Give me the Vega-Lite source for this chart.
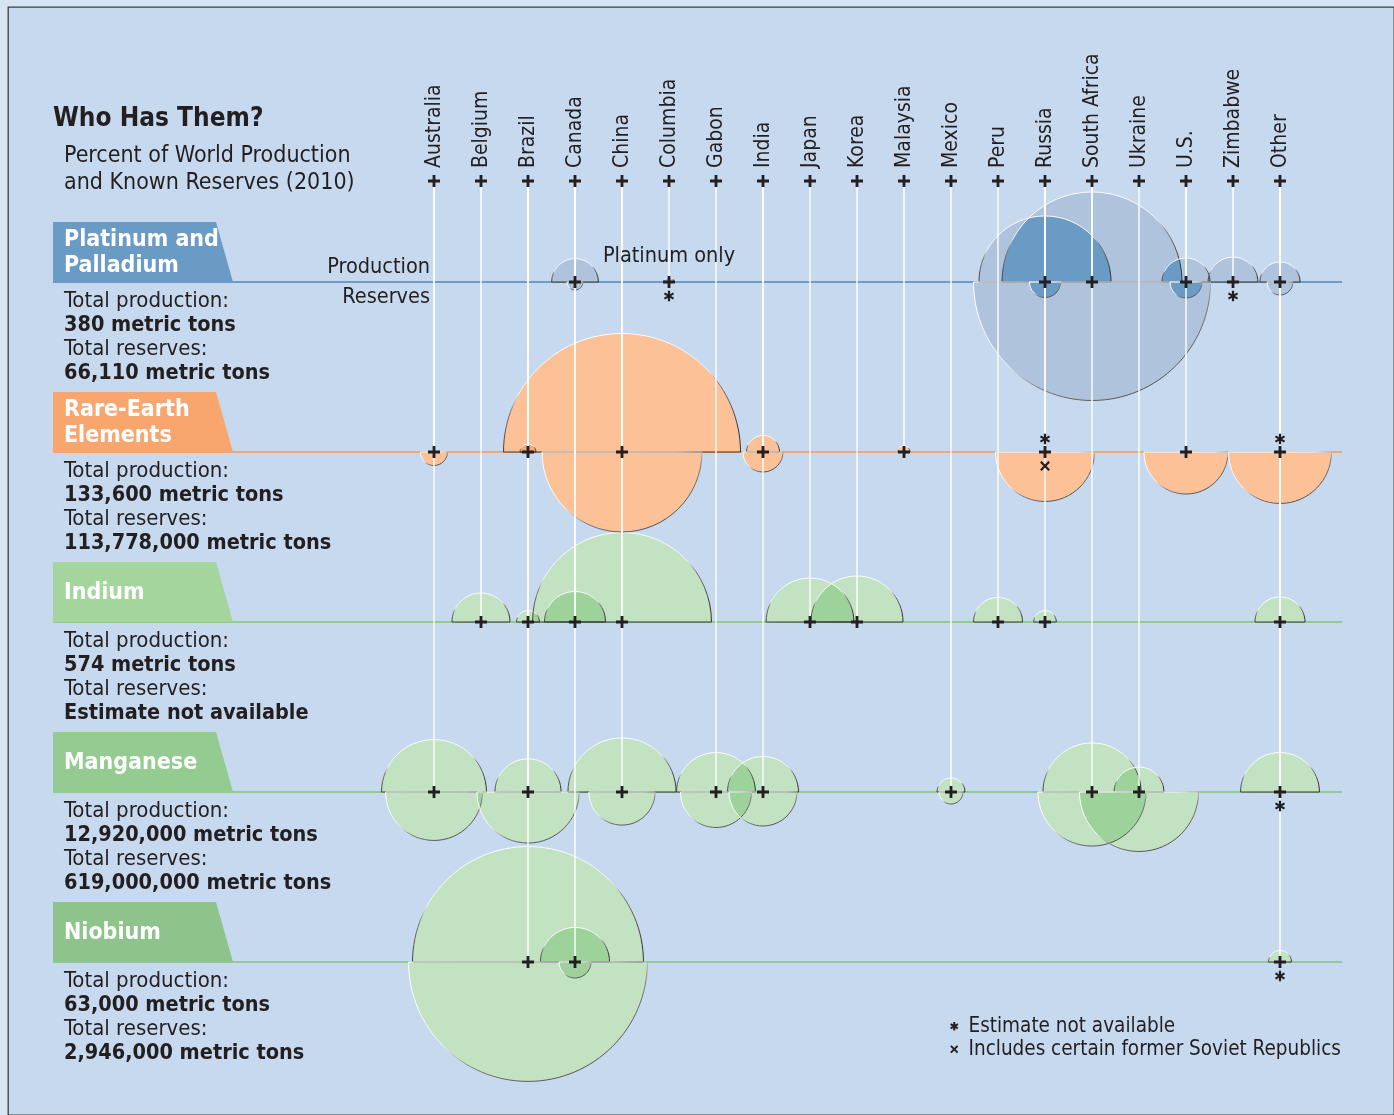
{
  "$schema": "https://vega.github.io/schema/vega-lite/v6.json",
  "width": 1394,
  "height": 1115,
  "autosize": {"type": "fit", "contains": "padding"},
  "padding": {"left": 8, "top": 7, "right": 0, "bottom": 0},
  "background": "#d7e4f3",
  "config": {
    "view": {"fill": "#c7d9ef", "stroke": "#3c3c3c", "strokeWidth": 1.3},
    "axis": {"disable": true},
    "font": "DejaVu Sans Condensed, DejaVu Sans, sans-serif",
    "text": {"font": "DejaVu Sans Condensed, DejaVu Sans, sans-serif", "color": "#231f20"}
  },
  "datasets": {
    "cells": [
      {"mineral": "Platinum and Palladium", "country": "Canada", "prod": 3.8, "res": 0.44},
      {"mineral": "Platinum and Palladium", "country": "Columbia", "prod": 0.17, "resNote": "Estimate not available"},
      {"mineral": "Platinum and Palladium", "country": "Russia", "prod": 30.3, "res": 1.67},
      {"mineral": "Platinum and Palladium", "country": "South Africa", "prod": 56.3, "res": 97.5},
      {"mineral": "Platinum and Palladium", "country": "U.S.", "prod": 4.0, "res": 1.78},
      {"mineral": "Platinum and Palladium", "country": "Zimbabwe", "prod": 4.3, "resNote": "Estimate not available"},
      {"mineral": "Platinum and Palladium", "country": "Other", "prod": 2.8, "res": 1.17},
      {"mineral": "Rare-Earth Elements", "country": "Australia", "prod": 0, "res": 1.27},
      {"mineral": "Rare-Earth Elements", "country": "Brazil", "prod": 0.44, "res": 0.04},
      {"mineral": "Rare-Earth Elements", "country": "China", "prod": 97.5, "res": 44.4},
      {"mineral": "Rare-Earth Elements", "country": "India", "prod": 1.9, "res": 2.78},
      {"mineral": "Rare-Earth Elements", "country": "Malaysia", "prod": 0.25, "res": 0.03},
      {"mineral": "Rare-Earth Elements", "country": "Russia", "prodNote": "Estimate not available", "res": 17.0, "resNote": "Includes certain former Soviet Republics"},
      {"mineral": "Rare-Earth Elements", "country": "U.S.", "prod": 0, "res": 12.25},
      {"mineral": "Rare-Earth Elements", "country": "Other", "prodNote": "Estimate not available", "res": 18.4},
      {"mineral": "Indium", "country": "Belgium", "prod": 5.84},
      {"mineral": "Indium", "country": "Brazil", "prod": 0.92},
      {"mineral": "Indium", "country": "Canada", "prod": 6.46},
      {"mineral": "Indium", "country": "China", "prod": 55.6},
      {"mineral": "Indium", "country": "Japan", "prod": 13.4},
      {"mineral": "Indium", "country": "Korea", "prod": 14.7},
      {"mineral": "Indium", "country": "Peru", "prod": 4.17},
      {"mineral": "Indium", "country": "Russia", "prod": 0.89},
      {"mineral": "Indium", "country": "Other", "prod": 4.34},
      {"mineral": "Manganese", "country": "Australia", "prod": 19.1, "res": 16.3},
      {"mineral": "Manganese", "country": "Brazil", "prod": 7.6, "res": 18.1},
      {"mineral": "Manganese", "country": "China", "prod": 20.3, "res": 7.6},
      {"mineral": "Manganese", "country": "Gabon", "prod": 10.8, "res": 8.75},
      {"mineral": "Manganese", "country": "India", "prod": 8.75, "res": 8.0},
      {"mineral": "Manganese", "country": "Mexico", "prod": 1.36, "res": 1.0},
      {"mineral": "Manganese", "country": "South Africa", "prod": 16.7, "res": 20.3},
      {"mineral": "Manganese", "country": "Ukraine", "prod": 4.3, "res": 24.6},
      {"mineral": "Manganese", "country": "Other", "prod": 10.8, "resNote": "Estimate not available"},
      {"mineral": "Niobium", "country": "Brazil", "prod": 92.6, "res": 99.0},
      {"mineral": "Niobium", "country": "Canada", "prod": 8.3, "res": 1.78},
      {"mineral": "Niobium", "country": "Other", "prod": 0.92, "resNote": "Estimate not available"}
    ],
    "countries": [
      {"country": "Australia"}, {"country": "Belgium"}, {"country": "Brazil"}, {"country": "Canada"},
      {"country": "China"}, {"country": "Columbia"}, {"country": "Gabon"}, {"country": "India"},
      {"country": "Japan"}, {"country": "Korea"}, {"country": "Malaysia"}, {"country": "Mexico"},
      {"country": "Peru"}, {"country": "Russia"}, {"country": "South Africa"}, {"country": "Ukraine"},
      {"country": "U.S."}, {"country": "Zimbabwe"}, {"country": "Other"}
    ],
    "minerals": [
      {"mineral": "Platinum and Palladium", "name1": "Platinum and", "name2": "Palladium", "prodLabel": "Total production:", "prodTotal": "380 metric tons", "resLabel": "Total reserves:", "resTotal": "66,110 metric tons"},
      {"mineral": "Rare-Earth Elements", "name1": "Rare-Earth", "name2": "Elements", "prodLabel": "Total production:", "prodTotal": "133,600 metric tons", "resLabel": "Total reserves:", "resTotal": "113,778,000 metric tons"},
      {"mineral": "Indium", "name": "Indium", "prodLabel": "Total production:", "prodTotal": "574 metric tons", "resLabel": "Total reserves:", "resTotal": "Estimate not available"},
      {"mineral": "Manganese", "name": "Manganese", "prodLabel": "Total production:", "prodTotal": "12,920,000 metric tons", "resLabel": "Total reserves:", "resTotal": "619,000,000 metric tons"},
      {"mineral": "Niobium", "name": "Niobium", "prodLabel": "Total production:", "prodTotal": "63,000 metric tons", "resLabel": "Total reserves:", "resTotal": "2,946,000 metric tons"}
    ]
  },
  "layer": [
    {
      "layer": [
        {
          "data": {"name": "minerals"},
          "mark": {"type": "rule", "strokeWidth": 2},
          "encoding": {
            "x": {"datum": 0, "type": "quantitative", "scale": {"domain": [0, 1], "range": [45, 225], "zero": false, "nice": false}, "axis": null},
            "x2": {"datum": 7.161},
            "y": {"field": "mineral", "type": "nominal", "scale": {"type": "point", "domain": ["Header", "Platinum and Palladium", "Rare-Earth Elements", "Indium", "Manganese", "Niobium"], "range": [105, 955], "padding": 0}, "axis": null},
            "stroke": {"field": "mineral", "type": "nominal", "scale": {"domain": ["Platinum and Palladium", "Rare-Earth Elements", "Indium", "Manganese", "Niobium"], "range": ["#6d9cc6", "#f6a673", "#94c991", "#94c991", "#94c991"]}, "legend": null}
          }
        },
        {
          "data": {"name": "minerals"},
          "mark": {"type": "point", "shape": "M-1,-0.3333L0.8111,-0.3333L1,0.3333L-1,0.3333Z", "size": 32400, "filled": true, "opacity": 1, "strokeWidth": 0, "yOffset": -30},
          "encoding": {
            "x": {"datum": 0.5, "type": "quantitative"},
            "y": {"field": "mineral", "type": "nominal"},
            "fill": {"field": "mineral", "type": "nominal", "scale": {"domain": ["Platinum and Palladium", "Rare-Earth Elements", "Indium", "Manganese", "Niobium"], "range": ["#6a9bc5", "#f9a66e", "#a3d59c", "#93cb90", "#8ec38b"]}, "legend": null}
          }
        },
        {
          "data": {"name": "minerals"},
          "transform": [{"filter": "isValid(datum.name1)"}],
          "mark": {"type": "text", "align": "left", "baseline": "alphabetic", "fontSize": 23, "fontWeight": "bold", "color": "#ffffff", "dy": -36},
          "encoding": {"x": {"datum": 0.061, "type": "quantitative"}, "y": {"field": "mineral", "type": "nominal"}, "text": {"field": "name1"}}
        },
        {
          "data": {"name": "minerals"},
          "transform": [{"filter": "isValid(datum.name2)"}],
          "mark": {"type": "text", "align": "left", "baseline": "alphabetic", "fontSize": 23, "fontWeight": "bold", "color": "#ffffff", "dy": -10},
          "encoding": {"x": {"datum": 0.061, "type": "quantitative"}, "y": {"field": "mineral", "type": "nominal"}, "text": {"field": "name2"}}
        },
        {
          "data": {"name": "minerals"},
          "transform": [{"filter": "isValid(datum.name)"}],
          "mark": {"type": "text", "align": "left", "baseline": "alphabetic", "fontSize": 23, "fontWeight": "bold", "color": "#ffffff", "dy": -23},
          "encoding": {"x": {"datum": 0.061, "type": "quantitative"}, "y": {"field": "mineral", "type": "nominal"}, "text": {"field": "name"}}
        },
        {
          "data": {"name": "minerals"},
          "mark": {"type": "text", "align": "left", "baseline": "alphabetic", "fontSize": 22, "dy": 25},
          "encoding": {"x": {"datum": 0.061, "type": "quantitative"}, "y": {"field": "mineral", "type": "nominal"}, "text": {"field": "prodLabel"}}
        },
        {
          "data": {"name": "minerals"},
          "mark": {"type": "text", "align": "left", "baseline": "alphabetic", "fontSize": 21.5, "fontWeight": "bold", "dy": 49},
          "encoding": {"x": {"datum": 0.061, "type": "quantitative"}, "y": {"field": "mineral", "type": "nominal"}, "text": {"field": "prodTotal"}}
        },
        {
          "data": {"name": "minerals"},
          "mark": {"type": "text", "align": "left", "baseline": "alphabetic", "fontSize": 22, "dy": 73},
          "encoding": {"x": {"datum": 0.061, "type": "quantitative"}, "y": {"field": "mineral", "type": "nominal"}, "text": {"field": "resLabel"}}
        },
        {
          "data": {"name": "minerals"},
          "mark": {"type": "text", "align": "left", "baseline": "alphabetic", "fontSize": 21.5, "fontWeight": "bold", "dy": 97},
          "encoding": {"x": {"datum": 0.061, "type": "quantitative"}, "y": {"field": "mineral", "type": "nominal"}, "text": {"field": "resTotal"}}
        },
        {
          "data": {"values": [{"t": "Who Has Them?"}]},
          "mark": {"type": "text", "align": "left", "baseline": "alphabetic", "fontSize": 26, "fontWeight": "bold", "dy": 14},
          "encoding": {"x": {"datum": 0, "type": "quantitative"}, "y": {"datum": "Header", "type": "nominal"}, "text": {"field": "t"}}
        },
        {
          "data": {"values": [{"t": ["Percent of World Production", "and Known Reserves (2010)"]}]},
          "mark": {"type": "text", "align": "left", "baseline": "alphabetic", "fontSize": 23, "lineHeight": 26.5, "dy": 50},
          "encoding": {"x": {"datum": 0.061, "type": "quantitative"}, "y": {"datum": "Header", "type": "nominal"}, "text": {"field": "t"}}
        }
      ]
    },
    {
      "layer": [
        {
          "data": {"name": "cells"},
          "transform": [{"filter": "datum.prod > 0"}],
          "mark": {"type": "point", "shape": "M-1,0C-1,-0.5523,-0.5523,-1,0,-1C0.5523,-1,1,-0.5523,1,0Z", "filled": true, "opacity": 1, "strokeWidth": 0},
          "encoding": {
            "x": {"field": "country", "type": "nominal", "scale": {"type": "point", "domain": ["Australia", "Belgium", "Brazil", "Canada", "China", "Columbia", "Gabon", "India", "Japan", "Korea", "Malaysia", "Mexico", "Peru", "Russia", "South Africa", "Ukraine", "U.S.", "Zimbabwe", "Other"], "range": [426, 1272], "padding": 0}, "axis": null},
            "y": {"field": "mineral", "type": "nominal"},
            "size": {"field": "prod", "type": "quantitative", "scale": {"type": "linear", "domain": [0, 100], "range": [0, 57600], "zero": true}, "legend": null},
            "fill": {"field": "mineral", "type": "nominal", "scale": {"domain": ["Platinum and Palladium", "Rare-Earth Elements", "Indium", "Manganese", "Niobium"], "range": ["#f4ebf4", "#fedcbd", "#e9f1e7", "#e9f1e7", "#e9f1e7"]}, "legend": null}
          }
        },
        {
          "data": {"name": "cells"},
          "transform": [{"filter": "datum.res > 0"}],
          "mark": {"type": "point", "shape": "M-1,0C-1,0.5523,-0.5523,1,0,1C0.5523,1,1,0.5523,1,0Z", "filled": true, "opacity": 1, "strokeWidth": 0},
          "encoding": {
            "x": {"field": "country", "type": "nominal"},
            "y": {"field": "mineral", "type": "nominal"},
            "size": {"field": "res", "type": "quantitative", "legend": null},
            "fill": {"field": "mineral", "type": "nominal", "scale": {"domain": ["Platinum and Palladium", "Rare-Earth Elements", "Indium", "Manganese", "Niobium"], "range": ["#f4ebf4", "#fedcbd", "#e9f1e7", "#e9f1e7", "#e9f1e7"]}, "legend": null}
          }
        },
        {
          "data": {"name": "cells"},
          "transform": [{"filter": "datum.prod > 0"}],
          "mark": {"type": "point", "shape": "M-1,0C-1,-0.5523,-0.5523,-1,0,-1C0.5523,-1,1,-0.5523,1,0Z", "filled": true, "opacity": 1, "strokeWidth": 0, "blend": "difference"},
          "encoding": {
            "x": {"field": "country", "type": "nominal"},
            "y": {"field": "mineral", "type": "nominal"},
            "size": {"field": "prod", "type": "quantitative", "legend": null},
            "fill": {"field": "mineral", "type": "nominal", "scale": {"domain": ["Platinum and Palladium", "Rare-Earth Elements", "Indium", "Manganese", "Niobium"], "range": ["#452818", "#021b26", "#260f26", "#260f26", "#260f26"]}, "legend": null}
          }
        },
        {
          "data": {"name": "cells"},
          "transform": [{"filter": "datum.res > 0"}],
          "mark": {"type": "point", "shape": "M-1,0C-1,0.5523,-0.5523,1,0,1C0.5523,1,1,0.5523,1,0Z", "filled": true, "opacity": 1, "strokeWidth": 0, "blend": "difference"},
          "encoding": {
            "x": {"field": "country", "type": "nominal"},
            "y": {"field": "mineral", "type": "nominal"},
            "size": {"field": "res", "type": "quantitative", "legend": null},
            "fill": {"field": "mineral", "type": "nominal", "scale": {"domain": ["Platinum and Palladium", "Rare-Earth Elements", "Indium", "Manganese", "Niobium"], "range": ["#452818", "#021b26", "#260f26", "#260f26", "#260f26"]}, "legend": null}
          }
        },
        {
          "data": {"name": "cells"},
          "transform": [{"filter": "datum.prod > 0"}],
          "mark": {"type": "point", "shape": "M-1,0C-1,-0.5523,-0.5523,-1,0,-1C0.5523,-1,1,-0.5523,1,0Z", "filled": false, "opacity": 1, "strokeWidth": 1,
            "stroke": {"gradient": "linear", "x1": 0, "y1": 0, "x2": 0.25, "y2": 1, "stops": [{"offset": 0, "color": "#ffffff"}, {"offset": 0.5, "color": "#eef2f7"}, {"offset": 0.62, "color": "#777777"}, {"offset": 1, "color": "#333333"}]}},
          "encoding": {
            "x": {"field": "country", "type": "nominal"},
            "y": {"field": "mineral", "type": "nominal"},
            "size": {"field": "prod", "type": "quantitative", "legend": null}
          }
        },
        {
          "data": {"name": "cells"},
          "transform": [{"filter": "datum.res > 0"}],
          "mark": {"type": "point", "shape": "M-1,0C-1,0.5523,-0.5523,1,0,1C0.5523,1,1,0.5523,1,0Z", "filled": false, "opacity": 1, "strokeWidth": 1,
            "stroke": {"gradient": "linear", "x1": 0, "y1": 0, "x2": 1, "y2": 1, "stops": [{"offset": 0, "color": "#ffffff"}, {"offset": 0.42, "color": "#f2f5f9"}, {"offset": 0.58, "color": "#7a7a7a"}, {"offset": 1, "color": "#333333"}]}},
          "encoding": {
            "x": {"field": "country", "type": "nominal"},
            "y": {"field": "mineral", "type": "nominal"},
            "size": {"field": "res", "type": "quantitative", "legend": null}
          }
        },
        {
          "data": {"name": "cells"},
          "mark": {"type": "rule", "color": "#ffffff", "strokeWidth": 1.4, "y2Offset": 69},
          "encoding": {
            "x": {"field": "country", "type": "nominal"},
            "y": {"field": "mineral", "type": "nominal"},
            "y2": {"datum": "Header"}
          }
        },
        {
          "data": {"name": "countries"},
          "mark": {"type": "point", "shape": "M-1,0L1,0M0,-1L0,1", "size": 144, "filled": false, "strokeWidth": 2.8, "color": "#231f20", "opacity": 1, "yOffset": 69},
          "encoding": {
            "x": {"field": "country", "type": "nominal"},
            "y": {"datum": "Header", "type": "nominal"}
          }
        },
        {
          "data": {"name": "cells"},
          "mark": {"type": "point", "shape": "M-1,0L1,0M0,-1L0,1", "size": 144, "filled": false, "strokeWidth": 2.8, "color": "#231f20", "opacity": 1},
          "encoding": {
            "x": {"field": "country", "type": "nominal"},
            "y": {"field": "mineral", "type": "nominal"}
          }
        },
        {
          "data": {"name": "countries"},
          "mark": {"type": "text", "angle": 270, "align": "left", "baseline": "middle", "fontSize": 21, "yOffset": 56},
          "encoding": {
            "x": {"field": "country", "type": "nominal"},
            "y": {"datum": "Header", "type": "nominal"},
            "text": {"field": "country"}
          }
        },
        {
          "data": {"name": "cells"},
          "transform": [{"filter": "isValid(datum.prodNote)"}],
          "mark": {"type": "point", "filled": false, "size": 110, "strokeWidth": 2.2, "color": "#231f20", "opacity": 1, "yOffset": -13},
          "encoding": {
            "x": {"field": "country", "type": "nominal"},
            "y": {"field": "mineral", "type": "nominal"},
            "shape": {"field": "prodNote", "type": "nominal",
              "scale": {"domain": ["Estimate not available", "Includes certain former Soviet Republics"], "range": ["M0,-1L0,1M-0.866,-0.5L0.866,0.5M-0.866,0.5L0.866,-0.5", "M-0.8,-0.8L0.8,0.8M-0.8,0.8L0.8,-0.8"]},
              "legend": {"title": null, "orient": "none", "legendX": 936, "legendY": 1009, "labelFontSize": 20.5, "labelColor": "#231f20", "labelFont": "DejaVu Sans Condensed, DejaVu Sans, sans-serif", "symbolStrokeColor": "#231f20", "symbolFillColor": "transparent", "symbolStrokeWidth": 2, "symbolSize": 70, "labelOffset": 4, "rowPadding": 2, "symbolOpacity": 1, "labelLimit": 600}}
          }
        },
        {
          "data": {"name": "cells"},
          "transform": [{"filter": "isValid(datum.resNote)"}],
          "mark": {"type": "point", "filled": false, "size": 110, "strokeWidth": 2.2, "color": "#231f20", "opacity": 1, "yOffset": 14},
          "encoding": {
            "x": {"field": "country", "type": "nominal"},
            "y": {"field": "mineral", "type": "nominal"},
            "shape": {"field": "resNote", "type": "nominal",
              "legend": {"title": null, "orient": "none", "legendX": 936, "legendY": 1009, "labelFontSize": 20.5, "labelColor": "#231f20", "labelFont": "DejaVu Sans Condensed, DejaVu Sans, sans-serif", "symbolStrokeColor": "#231f20", "symbolFillColor": "transparent", "symbolStrokeWidth": 2, "symbolSize": 70, "labelOffset": 4, "rowPadding": 2, "symbolOpacity": 1, "labelLimit": 600}}
          }
        },
        {
          "data": {"values": [{"t": ["Production", "Reserves"]}]},
          "mark": {"type": "text", "align": "right", "baseline": "alphabetic", "fontSize": 21.5, "lineHeight": 30, "dx": -4, "dy": -9},
          "encoding": {
            "x": {"datum": "Australia", "type": "nominal"},
            "y": {"datum": "Platinum and Palladium", "type": "nominal"},
            "text": {"field": "t"}
          }
        },
        {
          "data": {"values": [{"t": "Platinum only"}]},
          "mark": {"type": "text", "align": "center", "baseline": "alphabetic", "fontSize": 21.5, "dy": -20},
          "encoding": {
            "x": {"datum": "Columbia", "type": "nominal"},
            "y": {"datum": "Platinum and Palladium", "type": "nominal"},
            "text": {"field": "t"}
          }
        }
      ],
      "resolve": {"scale": {"fill": "independent"}}
    }
  ],
  "resolve": {"scale": {"x": "independent", "fill": "independent"}}
}
